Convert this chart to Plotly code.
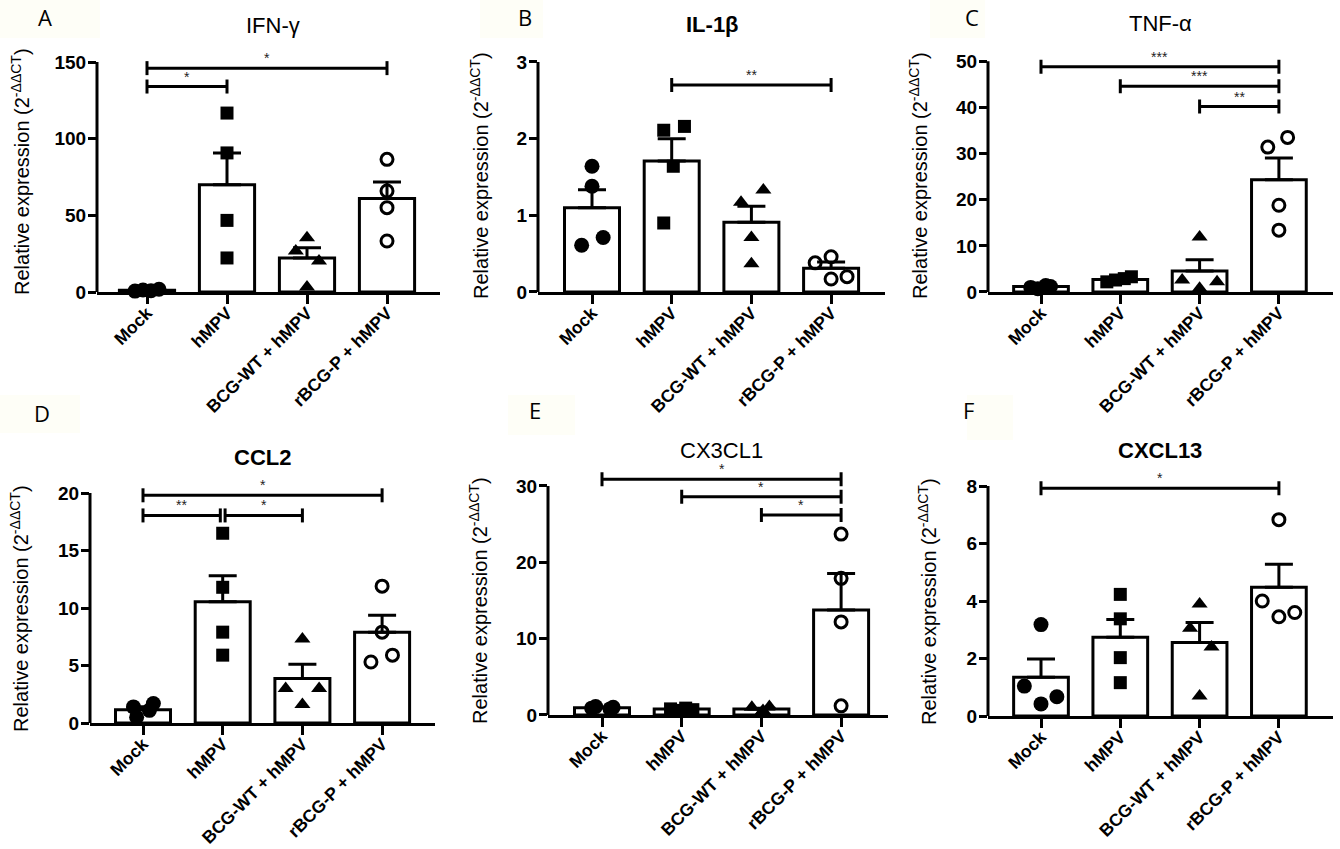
import plotly.graph_objects as go

# ---------------- data ----------------
groups = ["Mock", "hMPV", "BCG-WT + hMPV", "rBCG-P + hMPV"]

ifng_points = [[0.6, 1.3, 0.8, 1.8], [116.7, 90.7, 46.7, 22.2], [35.4, 26.7, 20.2, 3.3], [86.5, 65.9, 55.0, 33.3]]
ifng_jitter = [[-0.15, -0.05, 0.05, 0.15], [0, 0, 0, 0], [0, -0.14, 0.15, 0], [0, 0, 0, 0]]
ifng_mean = [1.1, 70.0, 22.2, 60.9]
ifng_sem = [0.3, 20.7, 6.7, 10.8]
ifng_sig = [(0, 3, 146.0, "*"), (0, 1, 134.0, "*")]

il1b_points = [[1.64, 1.38, 0.61, 0.71], [2.11, 2.16, 1.64, 0.90], [1.17, 1.33, 0.71, 0.37], [0.38, 0.46, 0.17, 0.20]]
il1b_jitter = [[0, 0, -0.13, 0.14], [-0.1, 0.16, 0.02, -0.1], [-0.13, 0.15, 0, 0], [-0.2, 0, 0, 0.2]]
il1b_mean = [1.10, 1.71, 0.91, 0.31]
il1b_sem = [0.235, 0.29, 0.21, 0.08]
il1b_sig = [(1, 3, 2.70, "**")]

tnfa_points = [[1.0, 0.7, 1.4, 1.2], [2.2, 2.6, 2.9, 3.3], [11.9, 2.6, 2.2, 0.8], [31.4, 33.5, 18.8, 13.4]]
tnfa_jitter = [[-0.13, -0.04, 0.06, 0.12], [-0.17, -0.06, 0.05, 0.14], [0, -0.22, 0.22, 0], [-0.14, 0.11, 0, 0]]
tnfa_mean = [1.2, 2.7, 4.55, 24.35]
tnfa_sem = [0.2, 0.3, 2.45, 4.7]
tnfa_sig = [(0, 3, 48.8, "***"), (1, 3, 44.6, "***"), (2, 3, 40.2, "**")]

ccl2_points = [[1.4, 0.5, 1.1, 1.7], [16.5, 11.8, 7.9, 5.9], [7.3, 3.0, 3.0, 1.6], [11.9, 7.9, 5.9, 5.3]]
ccl2_jitter = [[-0.12, -0.08, 0.08, 0.13], [0, 0, 0, 0], [0, -0.21, 0.21, 0], [0, 0, 0.13, -0.14]]
ccl2_mean = [1.16, 10.55, 3.87, 7.9]
ccl2_sem = [0.25, 2.25, 1.23, 1.46]
ccl2_sig = [(0, 3, 19.8, "*"), (0, 1, 18.05, "**"), (1, 2, 18.05, "*")]

cx3cl1_points = [[0.9, 1.1, 0.8, 1.0], [0.8, 0.6, 0.9, 0.7], [1.0, 0.3, 1.1, 0.6], [23.7, 17.9, 12.2, 1.2]]
cx3cl1_jitter = [[-0.13, -0.08, 0.1, 0.14], [-0.14, -0.05, 0.05, 0.14], [-0.12, 0, 0.1, 0.02], [0, 0, 0, 0]]
cx3cl1_mean = [0.95, 0.8, 0.8, 13.75]
cx3cl1_sem = [0.05, 0.06, 0.1, 4.8]
cx3cl1_sig = [(0, 3, 30.9, "*"), (1, 3, 28.6, "*"), (2, 3, 26.2, "*")]

cxcl13_points = [[3.18, 1.04, 0.67, 0.42], [4.23, 3.38, 2.03, 1.16], [3.9, 3.05, 2.4, 0.7], [6.83, 4.0, 3.6, 3.45]]
cxcl13_jitter = [[0, -0.21, 0.2, 0], [0, 0, 0, 0], [0, -0.12, 0.15, 0], [0, -0.21, 0.2, 0]]
cxcl13_mean = [1.35, 2.74, 2.56, 4.48]
cxcl13_sem = [0.63, 0.62, 0.69, 0.8]
cxcl13_sig = [(0, 3, 7.92, "*")]

# ---------------- layout of the six panels (pixels) ----------------
W, H = 1340, 849
panels = [
    dict(letter="A", title="IFN-γ", bold=False, pts=ifng_points, jit=ifng_jitter, mean=ifng_mean, sem=ifng_sem,
         sig=ifng_sig, yticks=[0, 50, 100, 150], ytop=152, axis_px=97, end_px=440, mock_px=147, sp=80,
         y0_px=292, ppu=230 / 150, title_xy=(273, 26), letter_xy=(45, 17), ylab_xy=(20, 172), box=(0, 0, 100, 38)),
    dict(letter="B", title="IL-1β", bold=True, pts=il1b_points, jit=il1b_jitter, mean=il1b_mean, sem=il1b_sem,
         sig=il1b_sig, yticks=[0, 1, 2, 3], ytop=3.05, axis_px=538, end_px=885, mock_px=592, sp=79.7,
         y0_px=292, ppu=230 / 3, title_xy=(712, 25), letter_xy=(525, 17), ylab_xy=(479, 176), box=(480, 0, 543, 38)),
    dict(letter="C", title="TNF-α", bold=False, pts=tnfa_points, jit=tnfa_jitter, mean=tnfa_mean, sem=tnfa_sem,
         sig=tnfa_sig, yticks=[0, 10, 20, 30, 40, 50], ytop=51, axis_px=988, end_px=1333, mock_px=1041, sp=79.3,
         y0_px=292, ppu=230.7 / 50, title_xy=(1160, 24), letter_xy=(972, 17), ylab_xy=(918, 176), box=(930, 0, 985, 38)),
    dict(letter="D", title="CCL2", bold=True, pts=ccl2_points, jit=ccl2_jitter, mean=ccl2_mean, sem=ccl2_sem,
         sig=ccl2_sig, yticks=[0, 5, 10, 15, 20], ytop=20.6, axis_px=90, end_px=435, mock_px=143, sp=79.7,
         y0_px=723, ppu=230 / 20, title_xy=(262, 457), letter_xy=(42, 413), ylab_xy=(19, 609), box=(0, 395, 80, 433)),
    dict(letter="E", title="CX3CL1", bold=False, pts=cx3cl1_points, jit=cx3cl1_jitter, mean=cx3cl1_mean, sem=cx3cl1_sem,
         sig=cx3cl1_sig, yticks=[0, 10, 20, 30], ytop=32.2, axis_px=548, end_px=888, mock_px=602, sp=79.7,
         y0_px=715, ppu=229 / 30, title_xy=(721, 450), letter_xy=(535, 410), ylab_xy=(478, 601), box=(508, 395, 575, 435)),
    dict(letter="F", title="CXCL13", bold=True, pts=cxcl13_points, jit=cxcl13_jitter, mean=cxcl13_mean, sem=cxcl13_sem,
         sig=cxcl13_sig, yticks=[0, 2, 4, 6, 8], ytop=8.3, axis_px=988, end_px=1333, mock_px=1041, sp=79.3,
         y0_px=716, ppu=230 / 8, title_xy=(1160, 450), letter_xy=(968, 410), ylab_xy=(927, 602), box=(967, 395, 1013, 440)),
]

symbols = ["circle", "square", "triangle-up", "circle-open"]
sizes = [15, 13, 14, 12]
FONT = "Liberation Sans, Arial, sans-serif"
ylabel = "Relative expression (2<sup>-ΔΔCT</sup>)"

fig = go.Figure()
shapes, annotations = [], []
layout_axes = {}


def px(xp):
    return xp / W


def py(yp):
    return 1 - yp / H


for k, p in enumerate(panels, start=1):
    xa = "x" if k == 1 else f"x{k}"
    ya = "y" if k == 1 else f"y{k}"
    cats = list(range(len(groups)))

    fig.add_trace(go.Bar(
        x=cats, y=p["mean"], width=0.69, xaxis=xa, yaxis=ya, showlegend=False,
        marker=dict(color="white", line=dict(color="black", width=3)),
        error_y=dict(type="data", array=p["sem"], arrayminus=[0] * 4, symmetric=False,
                     color="black", thickness=3, width=14),
    ))
    for g in cats:
        sym = symbols[g]
        mk = dict(symbol=sym, size=sizes[g], color="black")
        if sym.endswith("open"):
            mk["line"] = dict(color="black", width=3)
        else:
            mk["line"] = dict(width=0)
        fig.add_trace(go.Scatter(
            x=[g + j for j in p["jit"][g]], y=p["pts"][g], mode="markers", marker=mk,
            xaxis=xa, yaxis=ya, showlegend=False, cliponaxis=False,
        ))

    xl = -(p["mock_px"] - p["axis_px"]) / p["sp"]
    xr = (p["end_px"] - p["mock_px"]) / p["sp"]
    ytop_px = p["y0_px"] - p["ytop"] * p["ppu"]
    layout_axes["xaxis" if k == 1 else f"xaxis{k}"] = dict(
        domain=[px(p["axis_px"]), px(p["end_px"])], range=[xl, xr], anchor=ya, automargin=False,
        tickvals=cats, ticktext=groups, tickangle=-45, ticklabelstandoff=-8,
        tickfont=dict(family=FONT, size=17.5, color="black", weight="bold"),
        showline=True, linewidth=3, linecolor="black", ticks="outside", ticklen=9,
        tickwidth=3, tickcolor="black", showgrid=False, zeroline=False, fixedrange=True,
    )
    layout_axes["yaxis" if k == 1 else f"yaxis{k}"] = dict(
        domain=[py(p["y0_px"]), py(ytop_px)], range=[0, p["ytop"]], anchor=xa, automargin=False,
        tickvals=p["yticks"], ticklabelstandoff=-2,
        tickfont=dict(family=FONT, size=19, color="black", weight="bold"),
        showline=False, ticks="outside", ticklen=8, tickwidth=3, tickcolor="black",
        showgrid=False, zeroline=False, fixedrange=True,
    )

    # y axis line only up to the last tick (Prism style)
    shapes.append(dict(type="line", xref=f"{xa} domain", yref=ya, x0=0, x1=0,
                       y0=0, y1=p["yticks"][-1], line=dict(color="black", width=3)))

    # significance bars
    sig = p["sig"]
    for (a, b, yv, stars) in sig:
        x0, x1 = float(a), float(b)
        for (a2, b2, yv2, _) in sig:
            if yv2 == yv and b2 == a:
                x0 += 0.03
            if yv2 == yv and a2 == b:
                x1 -= 0.03
        shapes.append(dict(type="line", xref=xa, yref=ya, x0=x0, x1=x1, y0=yv, y1=yv,
                           line=dict(color="black", width=3)))
        for xc in (x0, x1):
            shapes.append(dict(type="line", xref=xa, yref=ya, x0=xc, x1=xc,
                               ysizemode="pixel", yanchor=yv, y0=-7, y1=7,
                               line=dict(color="black", width=3)))
        annotations.append(dict(x=(x0 + x1) / 2, y=yv, xref=xa, yref=ya, text=stars,
                                showarrow=False, yshift=10, yanchor="middle",
                                font=dict(family=FONT, size=14, color="#222222")))

    # texts
    tx, ty = p["title_xy"]
    ttl = f"<b>{p['title']}</b>" if p["bold"] else p["title"]
    annotations.append(dict(x=px(tx), y=py(ty), xref="paper", yref="paper", text=ttl, showarrow=False,
                            xanchor="center", yanchor="middle",
                            font=dict(family=FONT, size=22, color="black")))
    lx, ly = p["letter_xy"]
    bx0, by0, bx1, by1 = p["box"]
    shapes.append(dict(type="rect", xref="paper", yref="paper", x0=px(bx0), x1=px(bx1),
                       y0=py(by1), y1=py(by0), fillcolor="#fefef7", line=dict(width=0), layer="below"))
    annotations.append(dict(x=px(lx), y=py(ly), xref="paper", yref="paper", text=p["letter"],
                            showarrow=False, xanchor="center", yanchor="middle",
                            font=dict(family="Open Sans, sans-serif", size=22, color="black")))
    yx, yy = p["ylab_xy"]
    annotations.append(dict(x=px(yx), y=py(yy), xref="paper", yref="paper", text=ylabel,
                            showarrow=False, textangle=-90, xanchor="center", yanchor="middle",
                            font=dict(family=FONT, size=20, color="black")))

fig.update_layout(
    template="none",
    width=W, height=H, margin=dict(l=0, r=0, t=0, b=0, autoexpand=False),
    paper_bgcolor="white", plot_bgcolor="rgba(0,0,0,0)",
    shapes=shapes, annotations=annotations, showlegend=False,
    **layout_axes,
)

fig.write_html("out.html", config={"displayModeBar": False},
               post_script="document.body.style.margin='0';document.body.style.overflow='hidden';")
